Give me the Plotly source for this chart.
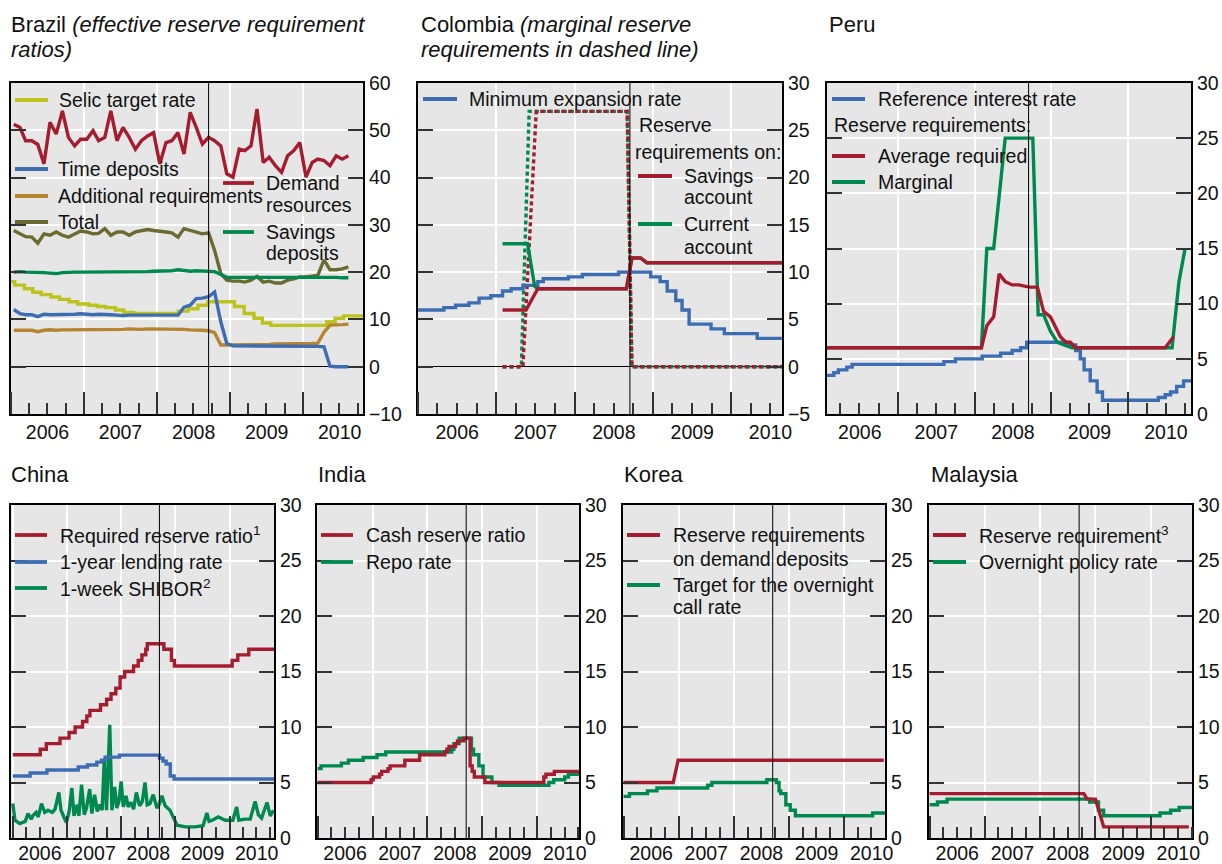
import plotly.graph_objects as go
import pandas as pd
from datetime import datetime

W, H = 1222, 864
FONT = "Liberation Sans, Arial, sans-serif"
RED = "#a61c2f"
BLUE = "#3c6db3"
GREEN = "#00894f"
SELIC = "#bdc31d"
BROWN = "#b5852f"
OLIVE = "#6b6a31"
LEHMAN = "2008-09-15"


def dy(v):
    y = int(v)
    f = v - y
    a, b = datetime(y, 1, 1), datetime(y + 1, 1, 1)
    return a + (b - a) * f


def dys(vals):
    return [dy(v) for v in vals]


# ---------------- Brazil (monthly, from Jan 2006) ----------------
brazil_months = pd.date_range("2006-01-01", periods=56, freq="MS") + pd.Timedelta(days=14)
br_demand = [51.3, 50.6, 47.8, 47.8, 47.0, 42.9, 51.7, 49.2, 54.1, 48.5, 46.7, 48.1, 48.1, 49.9,
             47.8, 48.5, 54.1, 47.8, 50.6, 48.5, 46.0, 47.8, 48.8, 49.5, 42.9, 47.4, 47.8, 49.5,
             45.0, 53.8, 50.6, 47.1, 48.5, 47.8, 46.7, 40.8, 40.1, 46.0, 45.7, 46.7, 54.5, 43.2,
             44.3, 42.5, 41.1, 44.6, 45.7, 47.4, 40.1, 43.2, 43.9, 43.6, 42.5, 44.6, 43.9, 44.6]
br_total = [28.8, 28.1, 27.5, 27.4, 26.1, 28.1, 27.8, 28.5, 27.8, 27.4, 28.1, 28.7, 28.5, 28.1,
            28.2, 29.2, 27.8, 28.5, 28.5, 27.8, 28.5, 28.7, 29.0, 28.8, 28.7, 28.5, 28.3, 27.4,
            29.2, 28.8, 28.5, 28.1, 28.3, 24.6, 19.7, 18.3, 18.1, 18.1, 17.9, 18.3, 19.1, 17.9,
            18.1, 17.7, 17.7, 18.3, 18.6, 19.0, 19.0, 19.1, 19.3, 22.6, 20.5, 20.5, 20.7, 21.1]
br_savings = [20.0, 20.1, 20.0, 20.0, 19.9, 19.9, 19.8, 19.7, 19.9, 20.0, 20.0, 20.0, 20.0, 20.1,
              20.0, 20.1, 20.0, 20.0, 20.1, 20.1, 20.0, 20.1, 20.1, 20.2, 20.2, 20.2, 20.3, 20.5,
              20.3, 20.2, 20.3, 20.2, 20.2, 20.1, 19.5, 18.9, 18.9, 18.9, 18.9, 18.9, 18.9, 18.9,
              18.9, 18.9, 18.9, 18.9, 18.9, 19.0, 19.0, 19.0, 19.0, 19.0, 18.9, 18.9, 18.8, 18.8]
br_time = [12.1, 11.2, 11.0, 11.0, 10.6, 11.1, 11.0, 11.0, 11.0, 11.0, 11.1, 11.2, 11.1, 11.0,
           11.1, 11.1, 11.0, 10.9, 10.8, 10.9, 10.9, 11.0, 11.0, 11.0, 11.0, 11.0, 10.9, 10.9,
           12.6, 13.0, 14.4, 14.5, 14.8, 15.8, 9.5, 4.9, 4.4, 4.4, 4.4, 4.4, 4.4, 4.4,
           4.4, 4.4, 4.3, 4.3, 4.3, 4.3, 4.3, 4.3, 4.3, 4.2, 0.1, 0.0, 0.0, 0.0]
br_additional = [7.7, 7.7, 7.8, 7.7, 7.4, 7.7, 7.8, 7.7, 7.8, 7.8, 7.8, 7.8, 7.9, 7.9,
                 7.9, 7.9, 7.9, 7.9, 7.9, 8.0, 7.9, 7.9, 8.0, 8.0, 8.0, 8.0, 7.9, 7.9,
                 7.9, 7.8, 7.8, 7.7, 7.6, 7.2, 4.6, 4.6, 4.7, 4.7, 4.7, 4.7, 4.7, 4.7,
                 4.7, 4.8, 4.8, 4.8, 4.8, 4.9, 4.9, 4.9, 5.0, 7.3, 8.8, 8.8, 8.9, 9.0]
selic_dates = ["2006-01-01", "2006-01-19", "2006-03-09", "2006-04-20", "2006-06-01", "2006-07-20",
               "2006-08-31", "2006-10-19", "2006-11-30", "2007-01-25", "2007-03-08", "2007-04-19",
               "2007-06-07", "2007-07-19", "2007-09-06", "2008-04-17", "2008-06-05", "2008-07-24",
               "2008-09-11", "2009-01-22", "2009-03-12", "2009-04-30", "2009-06-11", "2009-07-23",
               "2010-04-29", "2010-06-10", "2010-07-22", "2010-10-27"]
selic_vals = [18.0, 17.25, 16.5, 15.75, 15.25, 14.75, 14.25, 13.75, 13.25, 13.0, 12.75, 12.5,
              12.0, 11.5, 11.25, 11.75, 12.25, 13.0, 13.75, 12.75, 11.25, 10.25, 9.25, 8.75,
              9.5, 10.25, 10.75, 10.75]

# ---------------- Colombia ----------------
co_rate_t = [2006.0, 2006.33, 2006.48, 2006.65, 2006.78, 2006.93, 2007.08, 2007.19, 2007.34,
             2007.53, 2007.60, 2007.92, 2008.10, 2008.56, 2008.97, 2009.09, 2009.18, 2009.29,
             2009.37, 2009.46, 2009.74, 2009.91, 2010.33, 2010.70]
co_rate_v = [6.0, 6.25, 6.5, 6.75, 7.25, 7.5, 8.0, 8.25, 8.6, 9.0, 9.3, 9.5, 9.75, 10.0, 9.5,
             9.0, 8.0, 7.0, 6.0, 4.5, 4.0, 3.5, 3.0, 3.0]
co_sav_t = [2007.08, 2007.38, 2007.53, 2008.66, 2008.73, 2008.84, 2008.92, 2010.70]
co_sav_v = [6.0, 6.0, 8.25, 8.25, 11.5, 11.5, 11.0, 11.0]
co_cur_t = [2007.08, 2007.40, 2007.49, 2007.53, 2008.66, 2008.73, 2008.84, 2008.92, 2010.70]
co_cur_v = [13.0, 13.0, 8.5, 8.25, 8.25, 11.5, 11.5, 11.0, 11.0]
co_msav_t = [2007.08, 2007.34, 2007.51, 2008.67, 2008.73, 2010.70]
co_msav_v = [0, 0, 27, 27, 0, 0]
co_mcur_t = [2007.08, 2007.32, 2007.42, 2008.67, 2008.73, 2010.70]
co_mcur_v = [0, 0, 27, 27, 0, 0]

# ---------------- Peru ----------------
pe_ref_t = [2006.07, 2006.16, 2006.22, 2006.33, 2006.40, 2007.60, 2007.75, 2008.10, 2008.34,
            2008.49, 2008.60, 2008.68, 2009.19, 2009.32, 2009.38, 2009.43, 2009.51, 2009.60,
            2009.67, 2010.40, 2010.49, 2010.56, 2010.64, 2010.73, 2010.85]
pe_ref_v = [3.5, 3.75, 4.0, 4.25, 4.5, 4.75, 5.0, 5.25, 5.5, 5.75, 6.0, 6.5, 6.25, 5.75, 5.0,
            4.0, 3.0, 2.0, 1.25, 1.5, 1.75, 2.0, 2.5, 3.0, 3.0]
pe_avg_t = [2006.07, 2008.09, 2008.16, 2008.25, 2008.32, 2008.40, 2008.49, 2008.58, 2008.71,
            2008.82, 2008.90, 2008.99, 2009.12, 2009.19, 2009.25, 2009.32, 2010.49, 2010.60]
pe_avg_v = [6.0, 6.0, 8.0, 8.8, 12.7, 12.0, 11.7, 11.7, 11.5, 11.5, 9.3, 8.8, 7.0, 6.5, 6.5,
            6.0, 6.0, 7.0]
pe_mar_t = [2006.07, 2008.09, 2008.16, 2008.25, 2008.40, 2008.76, 2008.83, 2008.90, 2008.99,
            2009.08, 2009.27, 2010.58, 2010.67, 2010.75]
pe_mar_v = [6.0, 6.0, 15.0, 15.0, 25.0, 25.0, 9.0, 9.0, 7.5, 6.5, 6.0, 6.0, 12.0, 15.0]

# ---------------- China ----------------
cn_rrr_d = ["2006-01-01", "2006-07-05", "2006-08-15", "2006-11-15", "2007-01-15", "2007-02-25",
            "2007-04-16", "2007-05-15", "2007-06-05", "2007-08-15", "2007-09-25", "2007-10-25",
            "2007-11-26", "2007-12-25", "2008-01-25", "2008-03-25", "2008-04-25", "2008-05-20",
            "2008-06-15", "2008-06-25", "2008-10-15", "2008-12-05", "2008-12-25", "2010-01-18",
            "2010-02-25", "2010-05-10", "2010-10-27"]
cn_rrr_v = [7.5, 8.0, 8.5, 9.0, 9.5, 10.0, 10.5, 11.0, 11.5, 12.0, 12.5, 13.0, 13.5, 14.5, 15.0,
            15.5, 16.0, 16.5, 17.0, 17.5, 17.0, 16.0, 15.5, 16.0, 16.5, 17.0, 17.0]
cn_lend_d = ["2006-01-01", "2006-04-28", "2006-08-19", "2007-03-18", "2007-05-19", "2007-07-21",
             "2007-08-22", "2007-09-15", "2007-12-21", "2008-09-16", "2008-10-09", "2008-10-30",
             "2008-11-27", "2008-12-23", "2010-10-27"]
cn_lend_v = [5.58, 5.85, 6.12, 6.39, 6.57, 6.84, 7.02, 7.29, 7.47, 7.20, 6.93, 6.66, 5.58, 5.31, 5.31]
cn_shibor_t = [2006.00, 2006.04, 2006.13, 2006.23, 2006.28, 2006.34, 2006.37, 2006.43, 2006.47,
               2006.53, 2006.59, 2006.65, 2006.73, 2006.78, 2006.85, 2006.89, 2006.95, 2006.99,
               2007.04, 2007.09, 2007.13, 2007.19, 2007.22, 2007.27, 2007.32, 2007.36, 2007.42,
               2007.46, 2007.51, 2007.56, 2007.61, 2007.65, 2007.69, 2007.73, 2007.79, 2007.83,
               2007.88, 2007.92, 2007.96, 2008.00, 2008.04, 2008.09, 2008.13, 2008.18, 2008.23,
               2008.28, 2008.34, 2008.39, 2008.44, 2008.48, 2008.53, 2008.59, 2008.66, 2008.70,
               2008.75, 2008.81, 2008.90, 2008.96, 2009.03, 2009.18, 2009.36, 2009.51, 2009.58,
               2009.62, 2009.68, 2009.79, 2009.92, 2010.01, 2010.06, 2010.13, 2010.17, 2010.28,
               2010.38, 2010.47, 2010.53, 2010.59, 2010.69, 2010.75, 2010.81]
cn_shibor_v = [3.1, 1.6, 1.3, 1.5, 2.2, 1.7, 2.0, 2.3, 1.9, 3.1, 2.3, 2.5, 2.3, 2.6, 4.1, 2.5,
               1.8, 1.4, 2.4, 4.5, 2.0, 3.0, 2.0, 4.8, 2.1, 2.7, 4.4, 2.2, 3.9, 2.4, 3.0, 2.5,
               7.1, 2.5, 10.2, 2.5, 4.6, 2.7, 3.3, 5.1, 2.8, 3.8, 2.8, 3.2, 2.6, 4.1, 2.9, 3.3,
               5.0, 3.0, 3.1, 3.9, 2.7, 3.0, 3.8, 2.9, 2.5, 1.9, 1.15, 1.0, 1.0, 1.1, 2.25, 1.5,
               1.6, 1.9, 1.6, 1.6, 1.6, 2.8, 1.6, 1.7, 1.7, 3.3, 2.1, 1.8, 3.2, 2.0, 2.5]

# ---------------- India ----------------
in_crr_d = ["2006-01-01", "2006-12-23", "2007-01-06", "2007-02-17", "2007-03-03", "2007-04-14",
            "2007-04-28", "2007-08-04", "2007-11-10", "2008-04-26", "2008-05-10", "2008-05-24",
            "2008-07-05", "2008-07-19", "2008-08-30", "2008-10-11", "2008-10-25", "2008-11-08",
            "2009-01-17", "2010-02-13", "2010-02-27", "2010-04-24", "2010-10-05"]
in_crr_v = [5.0, 5.25, 5.5, 5.75, 6.0, 6.25, 6.5, 7.0, 7.5, 7.75, 8.0, 8.25, 8.5, 8.75, 9.0,
            6.5, 6.0, 5.5, 5.0, 5.5, 5.75, 6.0, 6.0]
in_repo_d = ["2006-01-01", "2006-01-24", "2006-06-08", "2006-07-25", "2006-10-31", "2007-01-31",
             "2007-03-30", "2008-06-11", "2008-06-25", "2008-07-30", "2008-10-20", "2008-11-03",
             "2008-12-08", "2009-01-05", "2009-03-05", "2009-04-21", "2010-03-19", "2010-04-20",
             "2010-07-02", "2010-07-27", "2010-10-05"]
in_repo_v = [6.25, 6.5, 6.75, 7.0, 7.25, 7.5, 7.75, 8.0, 8.5, 9.0, 8.0, 7.5, 6.5, 5.5, 5.0,
             4.75, 5.0, 5.25, 5.5, 5.75, 5.75]

# ---------------- Korea ----------------
kr_rr_t = [2006.0, 2006.90, 2006.99, 2010.72]
kr_rr_v = [5.0, 5.0, 7.0, 7.0]
kr_call_d = ["2006-01-01", "2006-02-09", "2006-06-08", "2006-08-10", "2007-07-12", "2007-08-09",
             "2008-08-07", "2008-10-09", "2008-10-27", "2008-11-07", "2008-12-11", "2009-01-09",
             "2009-02-12", "2010-07-09", "2010-09-30"]
kr_call_v = [3.75, 4.0, 4.25, 4.5, 4.75, 5.0, 5.25, 5.0, 4.25, 4.0, 3.0, 2.5, 2.0, 2.25, 2.25]

# ---------------- Malaysia ----------------
my_rr_t = [2006.0, 2008.79, 2008.85, 2009.00, 2009.15, 2010.69]
my_rr_v = [4.0, 4.0, 3.5, 3.5, 1.0, 1.0]
my_opr_d = ["2006-01-01", "2006-02-22", "2006-04-26", "2008-11-24", "2009-01-21", "2009-02-24",
            "2010-03-04", "2010-05-13", "2010-07-08", "2010-10-02"]
my_opr_v = [3.0, 3.25, 3.5, 3.25, 2.5, 2.0, 2.25, 2.5, 2.75, 2.75]

# ---------------- panel layout (pixels) ----------------
panels = [
    dict(l=11, r=363, t=83, b=414, yr=[-10, 60], dt=10, xr=["2006-01-01", "2010-10-27"], zero=True, so=0),
    dict(l=418, r=782, t=83, b=414, yr=[-5, 30], dt=5, xr=["2006-01-01", "2010-08-25"], zero=True, so=0),
    dict(l=827, r=1191, t=83, b=414, yr=[0, 30], dt=5, xr=["2006-01-27", "2010-10-30"], zero=False, so=0),
    dict(l=11, r=274, t=505, b=838, yr=[0, 30], dt=5, xr=["2005-12-20", "2010-10-27"], zero=False, so=-3),
    dict(l=317, r=579, t=505, b=838, yr=[0, 30], dt=5, xr=["2005-12-28", "2010-10-05"], zero=False, so=-3),
    dict(l=623, r=885, t=505, b=838, yr=[0, 30], dt=5, xr=["2005-12-28", "2010-09-29"], zero=False, so=-3),
    dict(l=929, r=1192, t=505, b=838, yr=[0, 30], dt=5, xr=["2005-12-28", "2010-10-01"], zero=False, so=-3),
]

fig = go.Figure()
LW = 3.4


def add(i, x, y, color, shape="linear", dash=None):
    sfx = "" if i == 0 else str(i + 1)
    fig.add_trace(go.Scatter(x=x, y=y, mode="lines",
                             line=dict(color=color, width=LW, shape=shape, dash=dash),
                             xaxis="x" + sfx, yaxis="y" + sfx, showlegend=False,
                             hoverinfo="skip"))


# Brazil
add(0, brazil_months, br_demand, RED)
add(0, brazil_months, br_total, OLIVE)
add(0, brazil_months, br_savings, GREEN)
add(0, selic_dates, selic_vals, SELIC, "hv")
add(0, brazil_months, br_additional, BROWN)
add(0, brazil_months, br_time, BLUE)
# Colombia
DOT = "4px,3px"
add(1, dys(co_mcur_t), co_mcur_v, GREEN, dash=DOT)
add(1, dys(co_msav_t), co_msav_v, RED, dash=DOT)
add(1, dys(co_rate_t), co_rate_v, BLUE, "hv")
add(1, dys(co_cur_t), co_cur_v, GREEN)
add(1, dys(co_sav_t), co_sav_v, RED)
# Peru
add(2, dys(pe_ref_t), pe_ref_v, BLUE, "hv")
add(2, dys(pe_mar_t), pe_mar_v, GREEN)
add(2, dys(pe_avg_t), pe_avg_v, RED)
# China
add(3, dys(cn_shibor_t), cn_shibor_v, GREEN)
add(3, cn_lend_d, cn_lend_v, BLUE, "hv")
add(3, cn_rrr_d, cn_rrr_v, RED, "hv")
# India
add(4, in_repo_d, in_repo_v, GREEN, "hv")
add(4, in_crr_d, in_crr_v, RED, "hv")
# Korea
add(5, kr_call_d, kr_call_v, GREEN, "hv")
add(5, dys(kr_rr_t), kr_rr_v, RED)
# Malaysia
add(6, my_opr_d, my_opr_v, GREEN, "hv")
add(6, dys(my_rr_t), my_rr_v, RED)

layout = dict(width=W, height=H, margin=dict(l=0, r=0, t=0, b=0, autoexpand=False),
              paper_bgcolor="white", plot_bgcolor="#e6e6e6",
              font=dict(family=FONT, size=19.5, color="#111"), showlegend=False)
shapes = []
annotations = []
for i, p in enumerate(panels):
    sfx = "" if i == 0 else str(i + 1)
    layout["xaxis" + sfx] = dict(
        domain=[p["l"] / W, p["r"] / W], anchor="y" + sfx, type="date", range=p["xr"],
        tick0="2006-01-01", dtick="M12", ticklabelmode="period", tickformat="%Y",
        ticks="inside", ticklen=22, tickwidth=2, tickcolor="#333",
        minor=dict(dtick="M3", ticks="inside", ticklen=11, tickwidth=2, tickcolor="#333",
                   showgrid=False),
        showgrid=True, gridcolor="white", gridwidth=1.5,
        showline=True, linecolor="black", linewidth=2, mirror=True, automargin=False,
        ticklabelstandoff=p["so"],
        tickfont=dict(size=19.5, color="#111"), fixedrange=True)
    layout["yaxis" + sfx] = dict(
        domain=[1 - p["b"] / H, 1 - p["t"] / H], anchor="x" + sfx, side="right",
        range=p["yr"], dtick=p["dt"], tick0=0,
        ticks="inside", ticklen=15, tickwidth=2, tickcolor="#333",
        showgrid=True, gridcolor="white", gridwidth=1.5,
        showline=True, linecolor="black", linewidth=2, mirror="ticks", automargin=False,
        zeroline=p["zero"], zerolinecolor="black", zerolinewidth=1,
        tickfont=dict(size=19.5, color="#111"), fixedrange=True)
    shapes.append(dict(type="line", xref="x" + sfx, yref="y" + sfx + " domain",
                       x0=LEHMAN, x1=LEHMAN, y0=0, y1=1,
                       line=dict(color="black", width=1)))


def text(s, x, y, size=19.5):
    annotations.append(dict(text=s, x=x / W, y=1 - y / H, xref="paper", yref="paper",
                            xanchor="left", yanchor="middle", showarrow=False,
                            font=dict(family=FONT, size=size, color="#111")))


def entry(label, color, sx0, sx1, tx, y):
    shapes.append(dict(type="line", xref="paper", yref="paper", x0=sx0 / W, x1=sx1 / W,
                       y0=1 - y / H, y1=1 - y / H, line=dict(color=color, width=3.8)))
    text(label, tx, y)


# titles
text("Brazil <i>(effective reserve requirement</i>", 9, 24, 22)
text("<i>ratios)</i>", 9, 49, 22)
text("Colombia <i>(marginal reserve</i>", 419, 24, 22)
text("<i>requirements in dashed line)</i>", 419, 49, 22)
text("Peru", 827, 24, 22)
text("China", 9, 474, 22)
text("India", 316, 474, 22)
text("Korea", 622, 474, 22)
text("Malaysia", 929, 474, 22)

# legends
entry("Selic target rate", SELIC, 15, 48, 57, 100)
entry("Time deposits", BLUE, 15, 48, 56, 169)
entry("Additional requirements", BROWN, 15, 48, 56, 196)
entry("Total", OLIVE, 15, 48, 56, 222)
entry("Demand", RED, 223, 254, 264, 183)
text("resources", 264, 205)
entry("Savings", GREEN, 223, 254, 264, 232)
text("deposits", 264, 253)

entry("Minimum expansion rate", BLUE, 423, 457, 467, 99)
text("Reserve", 637, 125)
text("requirements on:", 633, 152)
entry("Savings", RED, 638, 672, 682, 176)
text("account", 682, 197)
entry("Current", GREEN, 638, 672, 682, 224)
text("account", 682, 247)

entry("Reference interest rate", BLUE, 832, 865, 876, 99)
text("Reserve requirements:", 832, 125)
entry("Average required", RED, 832, 865, 876, 156)
entry("Marginal", GREEN, 832, 865, 876, 182)

entry("Required reserve ratio<sup>1</sup>", RED, 15, 47, 58, 535)
entry("1-year lending rate", BLUE, 15, 47, 58, 562)
entry("1-week SHIBOR<sup>2</sup>", GREEN, 15, 47, 58, 588)

entry("Cash reserve ratio", RED, 321, 353, 364, 535)
entry("Repo rate", GREEN, 321, 353, 364, 562)

entry("Reserve requirements", RED, 627, 660, 671, 535)
text("on demand deposits", 671, 559)
entry("Target for the overnight", GREEN, 627, 660, 671, 585)
text("call rate", 671, 607)

entry("Reserve requirement<sup>3</sup>", RED, 933, 966, 977, 535)
entry("Overnight policy rate", GREEN, 933, 966, 977, 562)

layout["shapes"] = shapes
layout["annotations"] = annotations
fig.update_layout(**layout)
fig.write_html("out.html")
